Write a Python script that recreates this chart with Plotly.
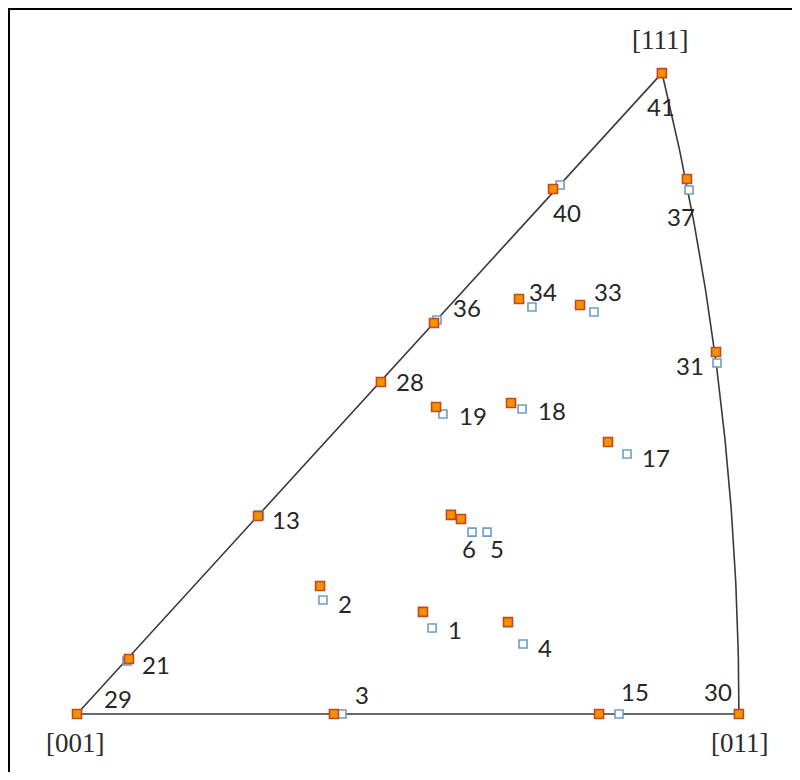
import numpy as np
import plotly.graph_objects as go

# Stereographic-projection coordinates of the standard triangle corners
corner_names = ["[001]", "[011]", "[111]"]
corner_x = [0.0, 0.4142, 0.3660]
corner_y = [0.0, 0.0, 0.3660]

# Grain / point ids
ids = [1, 2, 3, 4, 5, 6, 13, 15, 17, 18, 19, 21, 28, 29, 30, 31, 33, 34, 36, 37, 40, 41]

# Orange (filled) orientations
orange_x = [0.2165, 0.1521, 0.1608, 0.2697, 0.2403, 0.2340, 0.1133, 0.3267, 0.3323, 0.2716, 0.2247,
            0.0325, 0.1902, 0.0, 0.4142, 0.3999, 0.3148, 0.2766, 0.2234, 0.3817, 0.2979, 0.3660]
orange_y = [0.0583, 0.0731, 0.0, 0.0525, 0.1114, 0.1137, 0.1131, 0.0, 0.1553, 0.1776, 0.1753,
            0.0314, 0.1896, 0.0, 0.0, 0.2067, 0.2336, 0.2370, 0.2233, 0.3055, 0.2998, 0.3660]

# Blue (open) orientations
blue_x = [0.2222, 0.1539, 0.1658, 0.2791, 0.2566, 0.2472, 0.1139, 0.3392, 0.3442, 0.2785, 0.2290,
          0.0313, 0.1902, 0.0, 0.4142, 0.4005, 0.3235, 0.2847, 0.2253, 0.3830, 0.3023, 0.3660]
blue_y = [0.0491, 0.0651, 0.0, 0.0400, 0.1039, 0.1039, 0.1136, 0.0, 0.1485, 0.1742, 0.1713,
          0.0303, 0.1896, 0.0, 0.0, 0.2005, 0.2296, 0.2324, 0.2250, 0.2993, 0.3021, 0.3660]

# label offsets (pixels, right / down) relative to orange point -- styling
label_offsets = {
    1: (32, 18), 2: (25, 17), 3: (28, -20), 4: (37, 25), 5: (36, 30), 6: (18, 34),
    13: (28, 4), 15: (36, -23), 17: (48, 15), 18: (41, 7), 19: (37, 8), 21: (27, 5),
    28: (29, -1), 29: (41, -16), 30: (-21, -23), 31: (-26, 13), 33: (28, -13),
    34: (24, -8), 36: (33, -16), 37: (-6, 37), 40: (14, 23), 41: (-1, 33),
}
corner_offsets = [(-2, 29), (1, 29), (-2, -33)]

# Triangle boundary: straight edges plus the [011]-[111] great-circle arc
t = np.linspace(0, 1, 80)
n = np.sqrt(t ** 2 + 2)
arc_x = 1 / (n + 1)
arc_y = t / (n + 1)
bx = [corner_x[2], corner_x[0], corner_x[1]] + list(arc_x)
by = [corner_y[2], corner_y[0], corner_y[1]] + list(arc_y)

fig = go.Figure()
fig.add_trace(go.Scatter(x=bx, y=by, mode="lines",
                         line=dict(color="#3a3a3a", width=1.6), hoverinfo="skip"))
fig.add_trace(go.Scatter(x=blue_x, y=blue_y, mode="markers",
                         marker=dict(symbol="square", size=8, color="white",
                                     line=dict(color="#6f9cc8", width=1.6)),
                         text=[str(i) for i in ids], name="open"))
fig.add_trace(go.Scatter(x=orange_x, y=orange_y, mode="markers",
                         marker=dict(symbol="square", size=9, color="#f39200",
                                     line=dict(color="#c8461c", width=1.6)),
                         text=[str(i) for i in ids], name="filled"))

annotations = []
for i, x, y in zip(ids, orange_x, orange_y):
    dx, dy = label_offsets[i]
    annotations.append(dict(x=x, y=y, text=str(i), showarrow=False, xshift=dx, yshift=-dy,
                            font=dict(family="Lato, Open Sans, sans-serif", size=24, color="#262626")))
for name, x, y, (dx, dy) in zip(corner_names, corner_x, corner_y, corner_offsets):
    annotations.append(dict(x=x, y=y, text=name, showarrow=False, xshift=dx, yshift=-dy,
                            font=dict(family="Liberation Serif, serif", size=27, color="#2b2b2b")))

# frame: only the left and top edges are visible in the picture
frame = [
    dict(type="line", xref="paper", yref="paper", x0=0.5 / 792, x1=0.5 / 792, y0=0, y1=1,
         line=dict(color="black", width=3)),
    dict(type="line", xref="paper", yref="paper", x0=0, x1=1, y0=1 - 0.5 / 764, y1=1 - 0.5 / 764,
         line=dict(color="black", width=3)),
]

fig.update_layout(
    width=792, height=764,
    margin=dict(l=0, r=0, t=0, b=0),
    paper_bgcolor="white", plot_bgcolor="white",
    showlegend=False,
    xaxis=dict(range=[-0.04318, 0.45244], visible=False),
    yaxis=dict(range=[-0.03312, 0.40320], visible=False),
    annotations=annotations,
    shapes=frame,
)

fig.write_html("out.html")
